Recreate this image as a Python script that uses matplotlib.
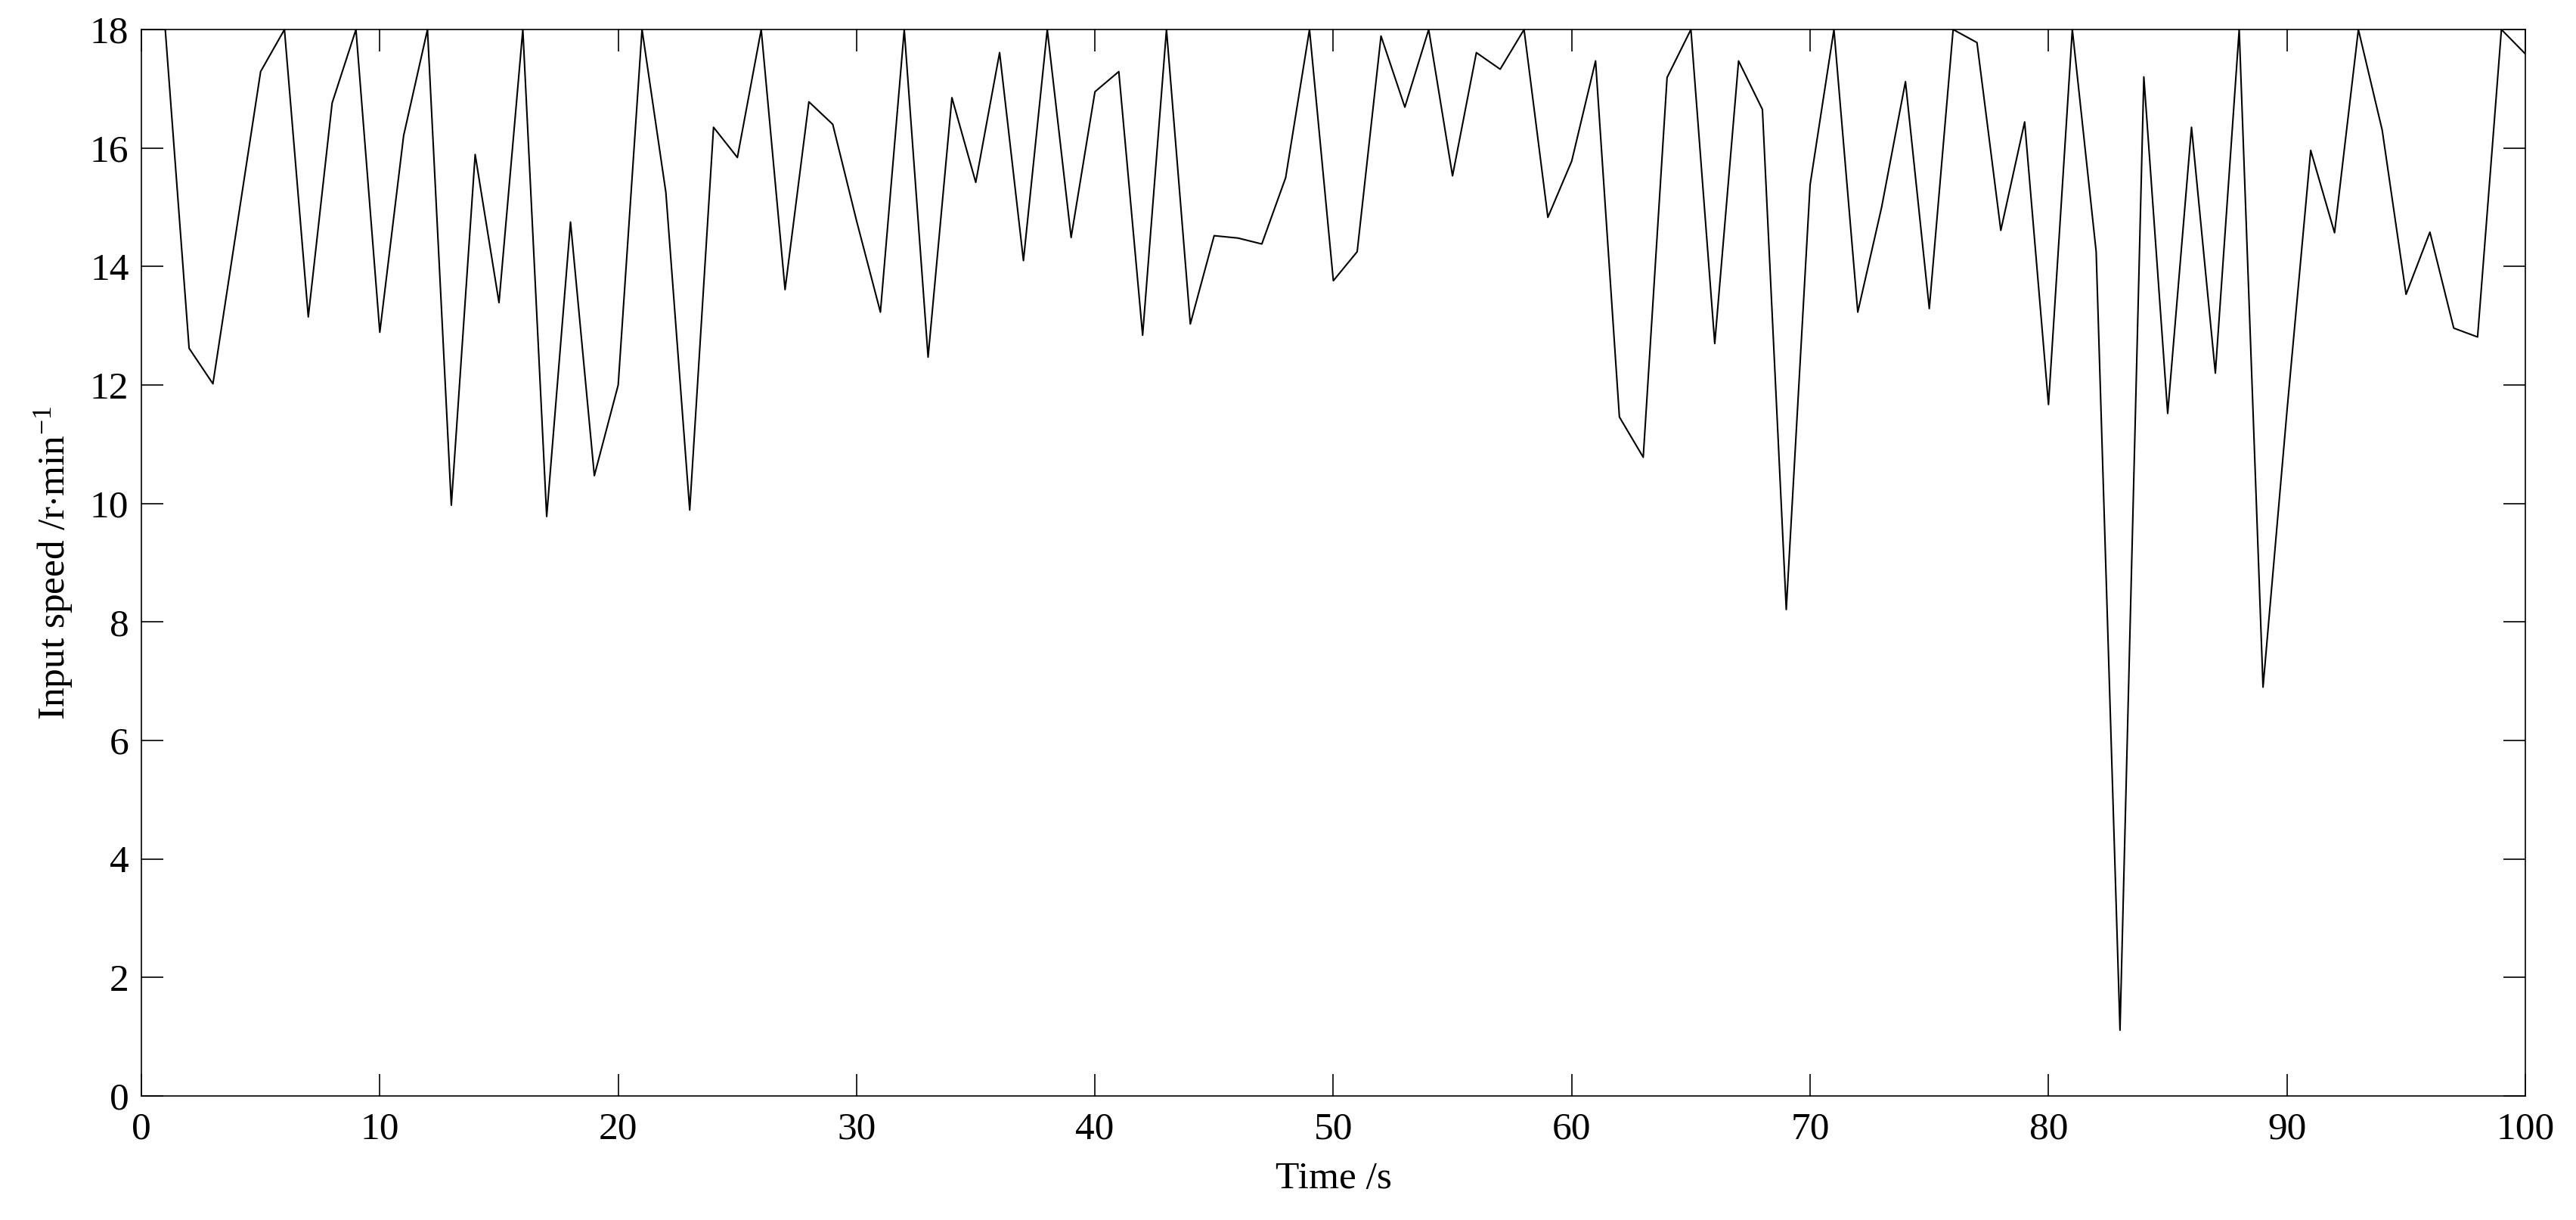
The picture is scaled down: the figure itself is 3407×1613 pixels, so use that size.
import matplotlib
matplotlib.use("Agg")
import matplotlib.pyplot as plt

# Input speed, one value per second (0..100 s)
time_s = list(range(0, 101))
speed = [
    18.0, 18.0, 12.62, 12.02, 14.66, 17.29, 18.0, 13.15, 16.76, 18.0,
    12.89, 16.21, 18.0, 9.97, 15.89, 13.39, 18.0, 9.78, 14.75, 10.47,
    12.0, 18.0, 15.25, 9.89, 16.35, 15.84, 18.0, 13.61, 16.78, 16.40,
    14.77, 13.23, 18.0, 12.47, 16.85, 15.42, 17.61, 14.10, 18.0, 14.49,
    16.95, 17.29, 12.84, 18.0, 13.03, 14.52, 14.48, 14.38, 15.50, 18.0,
    13.76, 14.25, 17.89, 16.69, 18.0, 15.53, 17.61, 17.33, 18.0, 14.83,
    15.78, 17.47, 11.46, 10.78, 17.19, 18.0, 12.70, 17.47, 16.65, 8.21,
    15.38, 18.0, 13.23, 15.0, 17.12, 13.29, 18.0, 17.78, 14.61, 16.44,
    11.67, 18.0, 14.25, 1.11, 17.20, 11.52, 16.35, 12.20, 18.0, 6.90,
    11.54, 15.96, 14.57, 18.0, 16.30, 13.53, 14.58, 12.96, 12.81, 18.0,
    17.59,
]
x_ticks = list(range(0, 101, 10))
y_ticks = list(range(0, 19, 2))

plt.rcParams['font.family'] = ['Liberation Serif', 'DejaVu Serif']
plt.rcParams['mathtext.fontset'] = 'custom'
plt.rcParams['mathtext.rm'] = 'Liberation Serif'
plt.rcParams['mathtext.it'] = 'Liberation Serif:italic'

fig = plt.figure(figsize=(34.07, 16.13), dpi=100)
ax = fig.add_axes([0.0549, 0.1017, 0.9254, 0.8741])

ax.plot(time_s, speed, color='black', linewidth=1.5)

ax.set_xlim(0, 100)
ax.set_ylim(0, 18)
ax.set_xticks(x_ticks)
ax.set_yticks(y_ticks)
ax.tick_params(direction='in', length=21, width=1.2, top=True, right=True,
               labelsize=37, pad=12)
ax.tick_params(axis='x', pad=15)
for s in ax.spines.values():
    s.set_linewidth(1.2)

ax.set_xlabel('Time /s', fontsize=37, labelpad=14)
ax.set_ylabel('Input speed /r$\\cdot$min$^{-1}$', fontsize=37, labelpad=14)

fig.savefig('out.png', dpi=100)
